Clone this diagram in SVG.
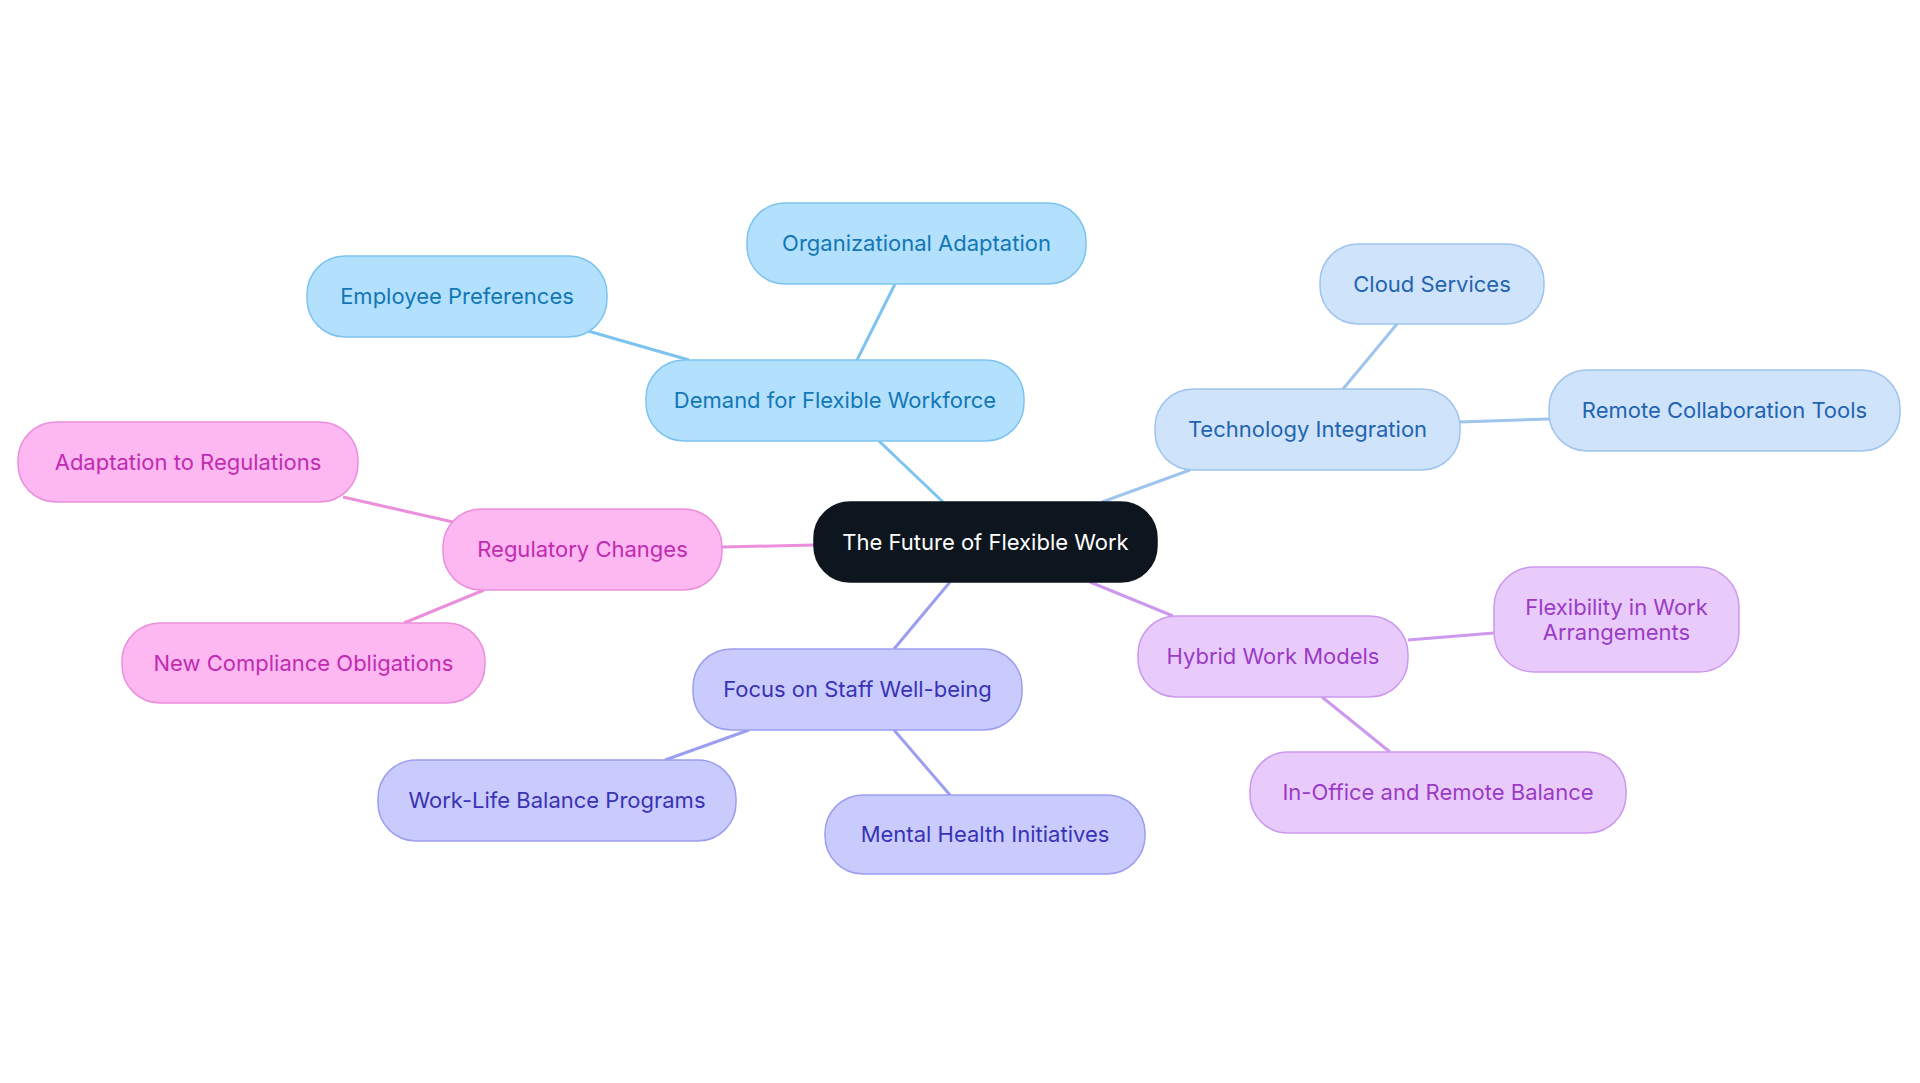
<svg xmlns="http://www.w3.org/2000/svg" width="1920" height="1083" viewBox="0 0 1920 1083">
<style>
text{font-family:Inter,"Noto Sans","Liberation Sans",sans-serif;font-size:22px;text-anchor:middle;dominant-baseline:central}
rect{stroke-width:1.5}
.b rect{fill:#b3e0fd;stroke:#7cc4ef}.b text{fill:#1277b6}
.t rect{fill:#cfe3fb;stroke:#9fc4ee}.t text{fill:#2364b0}
.p rect{fill:#fdb7f1;stroke:#eb8fdd}.p text{fill:#c12bb0}
.i rect{fill:#c9cbfd;stroke:#9c9ef0}.i text{fill:#3a32b5}
.v rect{fill:#e9cbfb;stroke:#cc99ee}.v text{fill:#9a3bc6}
line{stroke-width:3}
</style>
<rect width="1920" height="1083" fill="#fff"/>
<g id="connectors">
<line x1="943" y1="502" x2="879" y2="441" stroke="#7cc4ef"/>
<line x1="857" y1="360" x2="895" y2="284" stroke="#7cc4ef"/>
<line x1="689" y1="360" x2="588" y2="331" stroke="#7cc4ef"/>
<line x1="1102" y1="502" x2="1190" y2="470" stroke="#9fc4ee"/>
<line x1="1343" y1="389" x2="1397" y2="324" stroke="#9fc4ee"/>
<line x1="1460" y1="422" x2="1549" y2="419" stroke="#9fc4ee"/>
<line x1="814" y1="545" x2="722" y2="547" stroke="#eb8fdd"/>
<line x1="453" y1="522" x2="343" y2="497" stroke="#eb8fdd"/>
<line x1="484" y1="590" x2="404" y2="623" stroke="#eb8fdd"/>
<line x1="950" y1="582" x2="894" y2="649" stroke="#9c9ef0"/>
<line x1="749" y1="730" x2="665" y2="760" stroke="#9c9ef0"/>
<line x1="894" y1="730" x2="950" y2="795" stroke="#9c9ef0"/>
<line x1="1090" y1="582" x2="1173" y2="616" stroke="#cc99ee"/>
<line x1="1408" y1="640" x2="1494" y2="633" stroke="#cc99ee"/>
<line x1="1322" y1="697" x2="1390" y2="752" stroke="#cc99ee"/>
</g>
<g id="center"><rect x="814" y="502" width="343" height="80" rx="36" fill="#0d161e" stroke="#0d161e"/><text x="985.5" y="542" fill="#fff">The Future of Flexible Work</text></g>
<g id="demand" class="b"><rect x="646" y="360" width="378" height="81" rx="38"/><text x="835" y="400">Demand for Flexible Workforce</text></g>
<g id="org" class="b"><rect x="747" y="203" width="339" height="81" rx="38"/><text x="916.5" y="243">Organizational Adaptation</text></g>
<g id="emp" class="b"><rect x="307" y="256" width="300" height="81" rx="38"/><text x="457" y="296">Employee Preferences</text></g>
<g id="tech" class="t"><rect x="1155" y="389" width="305" height="81" rx="38"/><text x="1307.5" y="429">Technology Integration</text></g>
<g id="cloud" class="t"><rect x="1320" y="244" width="224" height="80" rx="38"/><text x="1432" y="284">Cloud Services</text></g>
<g id="remote" class="t"><rect x="1549" y="370" width="351" height="81" rx="38"/><text x="1724.5" y="410">Remote Collaboration Tools</text></g>
<g id="reg" class="p"><rect x="443" y="509" width="279" height="81" rx="38"/><text x="582.5" y="549">Regulatory Changes</text></g>
<g id="adapt" class="p"><rect x="18" y="422" width="340" height="80" rx="38"/><text x="188" y="462">Adaptation to Regulations</text></g>
<g id="newc" class="p"><rect x="122" y="623" width="363" height="80" rx="38"/><text x="303.5" y="663">New Compliance Obligations</text></g>
<g id="focus" class="i"><rect x="693" y="649" width="329" height="81" rx="38"/><text x="857.5" y="689">Focus on Staff Well-being</text></g>
<g id="wlb" class="i"><rect x="378" y="760" width="358" height="81" rx="38"/><text x="557" y="800">Work-Life Balance Programs</text></g>
<g id="mental" class="i"><rect x="825" y="795" width="320" height="79" rx="38"/><text x="985" y="834">Mental Health Initiatives</text></g>
<g id="hybrid" class="v"><rect x="1138" y="616" width="270" height="81" rx="38"/><text x="1273" y="656">Hybrid Work Models</text></g>
<g id="flex" class="v"><rect x="1494" y="567" width="245" height="105" rx="40"/><text x="1616.5" y="607">Flexibility in Work</text><text x="1616.5" y="632">Arrangements</text></g>
<g id="inoffice" class="v"><rect x="1250" y="752" width="376" height="81" rx="38"/><text x="1438" y="792">In-Office and Remote Balance</text></g>
</svg>
